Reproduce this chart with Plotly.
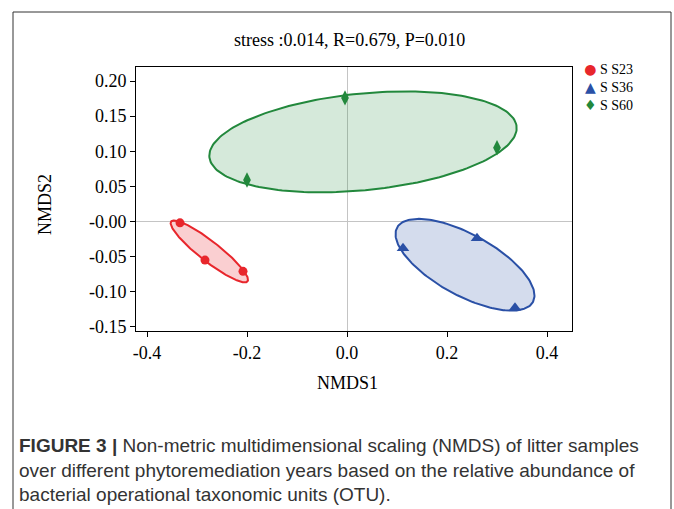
import numpy as np
import plotly.graph_objects as go

# ---- data ----
groups = ["S S23", "S S36", "S S60"]
s23_x = [-0.334, -0.284, -0.208]
s23_y = [-0.002, -0.055, -0.071]
s36_x = [0.112, 0.260, 0.336]
s36_y = [-0.038, -0.024, -0.123]
s60_x = [-0.004, 0.300, -0.200]
s60_y = [0.176, 0.105, 0.059]

x_ticks = [-0.4, -0.2, 0.0, 0.2, 0.4]
x_ticktext = ["-0.4", "-0.2", "0.0", "0.2", "0.4"]
y_ticks = [0.20, 0.15, 0.10, 0.05, 0.00, -0.05, -0.10, -0.15]
y_ticktext = ["0.20", "0.15", "0.10", "0.05", "-0.00", "-0.05", "-0.10", "-0.15"]

title_text = "stress :0.014, R=0.679, P=0.010"
caption_lines = [
    "<b>FIGURE 3 |</b> Non-metric multidimensional scaling (NMDS) of litter samples",
    "over different phytoremediation years based on the relative abundance of",
    "bacterial operational taxonomic units (OTU).",
]

# ---- styles ----
line_colors = ["#e8262c", "#2a50a6", "#22883c"]
fill_colors = ["rgba(232,38,44,0.22)", "rgba(42,80,166,0.2)", "rgba(34,136,60,0.19)"]
symbols = ["circle", "triangle-up", "diamond-tall"]
legend_glyphs = ["\u25CF", "\u25B2", "\u2666"]
sizes = [9, 11, 11]
serif = "Liberation Serif"
sans = "Liberation Sans"


def ellipse(xs, ys, k=1.22, n=200):
    pts = np.vstack([xs, ys])
    mu = pts.mean(axis=1)
    cov = np.cov(pts)
    vals, vecs = np.linalg.eigh(cov)
    t = np.linspace(0, 2 * np.pi, n)
    circ = np.vstack([np.cos(t), np.sin(t)])
    e = vecs @ (np.sqrt(np.maximum(vals, 0))[:, None] * circ) * k
    return mu[0] + e[0], mu[1] + e[1]


data = [(s23_x, s23_y), (s36_x, s36_y), (s60_x, s60_y)]

fig = go.Figure()
for i, (xs, ys) in enumerate(data):
    ex, ey = ellipse(xs, ys)
    fig.add_trace(go.Scatter(x=ex, y=ey, mode="lines", fill="toself",
                             fillcolor=fill_colors[i],
                             line=dict(color=line_colors[i], width=2),
                             showlegend=False, hoverinfo="skip"))
for i, (xs, ys) in enumerate(data):
    fig.add_trace(go.Scatter(x=xs, y=ys, mode="markers", name=groups[i],
                             showlegend=False,
                             marker=dict(symbol=symbols[i], size=sizes[i],
                                         color=line_colors[i])))

L, R, T, B = 136, 102, 67, 178
W, H = 674, 509
pw, ph = W - L - R, H - T - B


def px(xp):
    return (xp - L) / pw


def py(yp):
    return (H - B - yp) / ph


fig.update_layout(
    width=W, height=H,
    margin=dict(l=L, r=R, t=T, b=B),
    paper_bgcolor="white", plot_bgcolor="white",
    showlegend=False,
    xaxis=dict(range=[-0.422, 0.45], tickvals=x_ticks, ticktext=x_ticktext,
               showgrid=False, zeroline=True, zerolinecolor="#c4c4c4", zerolinewidth=1,
               showline=True, mirror=True, linecolor="black", linewidth=1,
               ticks="outside", ticklen=5, tickcolor="black",
               tickfont=dict(family=serif, size=18, color="black")),
    yaxis=dict(range=[-0.156, 0.22], tickvals=y_ticks, ticktext=y_ticktext,
               showgrid=False, zeroline=True, zerolinecolor="#c4c4c4", zerolinewidth=1,
               showline=True, mirror=True, linecolor="black", linewidth=1,
               ticks="outside", ticklen=5, tickcolor="black",
               tickfont=dict(family=serif, size=18, color="black")),
)

ann = [
    dict(text=title_text, x=0.49, y=py(40), xref="paper", yref="paper",
         showarrow=False, font=dict(family=serif, size=18, color="black"),
         xanchor="center", yanchor="middle"),
    dict(text="NMDS1", x=px(347), y=py(383), xref="paper", yref="paper",
         showarrow=False, font=dict(family=serif, size=18, color="black"),
         xanchor="center", yanchor="middle"),
    dict(text="NMDS2", x=px(45), y=py(205), xref="paper", yref="paper",
         showarrow=False, textangle=-90, font=dict(family=serif, size=18, color="black"),
         xanchor="center", yanchor="middle"),
]
# legend drawn as two multi-line text blocks (symbols, names)
glyph_text = "<br>".join(
    f"<span style='color:{line_colors[i]}'>{legend_glyphs[i]}</span>" for i in range(len(groups)))
ann.append(dict(text=glyph_text, x=px(590), y=py(87), xref="paper", yref="paper",
                showarrow=False, font=dict(family="DejaVu Sans", size=14, color="black"),
                xanchor="center", yanchor="middle", align="center"))
ann.append(dict(text="<br>".join(groups), x=px(598), y=py(87), xref="paper", yref="paper",
                showarrow=False, font=dict(family=serif, size=14, color="black"),
                xanchor="left", yanchor="middle", align="left"))
ann.append(dict(text="<br>".join(caption_lines), x=px(17), y=py(469.5), xref="paper",
                yref="paper", showarrow=False,
                font=dict(family=sans, size=19, color="#333333"),
                xanchor="left", yanchor="middle", align="left"))
fig.update_layout(annotations=ann)

fig.add_shape(type="rect", xref="paper", yref="paper",
              x0=px(13), x1=px(671), y0=py(540), y1=py(12),
              line=dict(color="#333333", width=1), fillcolor="rgba(0,0,0,0)", layer="above")

fig.write_html("out.html")
